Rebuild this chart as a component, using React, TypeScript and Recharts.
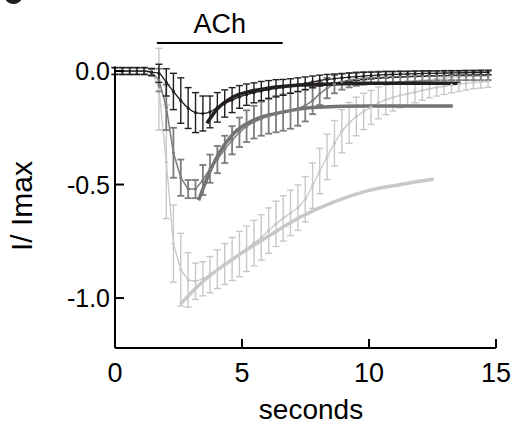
import { ComposedChart, Line, XAxis, YAxis, ErrorBar, ReferenceLine, Label } from "recharts";

// sample times (s)
const times = [
  0, 0.29, 0.58, 0.86, 1.15, 1.44, 1.73, 2.02, 2.3, 2.59, 2.88, 3.17, 3.46, 3.74, 4.03, 4.32, 4.61, 4.9,
  5.18, 5.47, 5.76, 6.05, 6.34, 6.62, 6.91, 7.2, 7.49, 7.78, 8.06, 8.35, 8.64, 8.93, 9.22, 9.5, 9.79,
  10.08, 10.37, 10.66, 10.94, 11.23, 11.52, 11.81, 12.1, 12.38, 12.67, 12.96, 13.25, 13.54, 13.82,
  14.11, 14.4, 14.69,
];

const blackMean = [
  0, 0, 0, 0, 0, -0.005, -0.01, -0.05, -0.09, -0.13, -0.163, -0.183, -0.187, -0.18, -0.16, -0.143,
  -0.128, -0.114, -0.104, -0.096, -0.088, -0.082, -0.076, -0.072, -0.066, -0.06, -0.054, -0.048,
  -0.042, -0.037, -0.033, -0.03, -0.027, -0.025, -0.022, -0.02, -0.018, -0.016, -0.015, -0.014,
  -0.013, -0.012, -0.011, -0.01, -0.01, -0.009, -0.008, -0.008, -0.007, -0.007, -0.006, -0.006,
];
const blackErr = [
  0.015, 0.015, 0.015, 0.015, 0.015, 0.015, 0.04, 0.06, 0.08, 0.1, 0.09, 0.088, 0.077, 0.07, 0.065,
  0.06, 0.055, 0.05, 0.047, 0.044, 0.042, 0.04, 0.038, 0.035, 0.032, 0.03, 0.028, 0.026, 0.024, 0.022,
  0.02, 0.019, 0.018, 0.017, 0.016, 0.015, 0.014, 0.014, 0.013, 0.013, 0.012, 0.012, 0.012, 0.011,
  0.011, 0.011, 0.01, 0.01, 0.01, 0.01, 0.01, 0.01,
];

const darkMean = [
  0, 0, 0, 0, 0, -0.005, -0.04, -0.16, -0.36, -0.47, -0.52, -0.52, -0.48, -0.43, -0.39, -0.345,
  -0.305, -0.27, -0.243, -0.225, -0.21, -0.198, -0.19, -0.183, -0.176, -0.166, -0.152, -0.13, -0.1,
  -0.075, -0.058, -0.047, -0.04, -0.035, -0.032, -0.03, -0.028, -0.027, -0.026, -0.025, -0.024,
  -0.023, -0.022, -0.022, -0.021, -0.021, -0.02, -0.02, -0.02, -0.02, -0.02, -0.02,
];
const darkErr = [
  0.015, 0.015, 0.015, 0.015, 0.015, 0.015, 0.05, 0.1, 0.11, 0.08, 0.04, 0.04, 0.066, 0.062, 0.06,
  0.06, 0.062, 0.065, 0.07, 0.072, 0.075, 0.078, 0.08, 0.08, 0.078, 0.075, 0.07, 0.06, 0.05, 0.045,
  0.04, 0.035, 0.032, 0.03, 0.028, 0.027, 0.026, 0.025, 0.024, 0.023, 0.022, 0.022, 0.021, 0.021,
  0.02, 0.02, 0.02, 0.02, 0.02, 0.02, 0.02, 0.02,
];

const lightMean = [
  0, 0, 0, 0, 0, 0, -0.08, -0.4, -0.76, -0.875, -0.92, -0.926, -0.915, -0.897, -0.873, -0.85, -0.828,
  -0.806, -0.783, -0.758, -0.733, -0.703, -0.673, -0.649, -0.625, -0.602, -0.565, -0.505, -0.44,
  -0.378, -0.318, -0.265, -0.228, -0.2, -0.178, -0.16, -0.14, -0.127, -0.116, -0.107, -0.1, -0.093,
  -0.085, -0.078, -0.072, -0.067, -0.062, -0.058, -0.054, -0.05, -0.048, -0.046,
];
const lightErr = [
  0.015, 0.015, 0.015, 0.015, 0.015, 0.015, 0.18, 0.25, 0.17, 0.16, 0.12, 0.08, 0.075, 0.08, 0.085,
  0.09, 0.095, 0.1, 0.1, 0.1, 0.1, 0.1, 0.1, 0.1, 0.1, 0.1, 0.1, 0.1, 0.1, 0.1, 0.1, 0.095, 0.09,
  0.085, 0.08, 0.075, 0.07, 0.065, 0.06, 0.055, 0.05, 0.047, 0.044, 0.04, 0.038, 0.036, 0.034, 0.032,
  0.03, 0.028, 0.027, 0.026,
];

// fitted decay curves
const blackFitT = [3.62, 4.0, 4.67, 5.3, 6.0, 7.3, 8.6, 9.9, 13.6];
const blackFitV = [-0.23, -0.17, -0.113, -0.09, -0.076, -0.062, -0.057, -0.054, -0.054];
const darkFitT = [3.29, 3.88, 4.67, 5.46, 6.64, 7.96, 9.93, 13.3];
const darkFitV = [-0.57, -0.407, -0.275, -0.216, -0.18, -0.16, -0.154, -0.154];
const lightFitT = [2.57, 3.36, 4.67, 5.99, 7.3, 8.62, 9.93, 11.25, 12.54];
const lightFitV = [-1.028, -0.937, -0.826, -0.731, -0.643, -0.576, -0.528, -0.5, -0.476];

// ACh application (s)
const achStart = 1.65;
const achEnd = 6.6;

const xTicks = [0, 5, 10, 15];
const yTicks = [0, -0.5, -1.0];

const FONT = "Liberation Sans, Arial, sans-serif";

const rows = (mean: number[], err: number[]) => times.map((t, i) => ({ t, v: mean[i], e: err[i] }));
const fitRows = (ts: number[], vs: number[]) => ts.map((t, i) => ({ t, v: vs[i] }));

const XTick = (props: any) => {
  const { x, y, payload } = props;
  return (
    <g>
      <line x1={x} y1={y} x2={x} y2={y - 9} stroke="#000" strokeWidth={2} />
      <text x={x} y={y + 34} textAnchor="middle" fontSize={27} fontFamily={FONT} fill="#000">
        {payload.value}
      </text>
    </g>
  );
};

const YTick = (props: any) => {
  const { x, y, payload } = props;
  return (
    <g>
      <line x1={x} y1={y} x2={x + 9} y2={y} stroke="#000" strokeWidth={2} />
      <text x={x - 5} y={y + 9} textAnchor="end" fontSize={25} fontFamily={FONT} fill="#000">
        {Number(payload.value).toFixed(1)}
      </text>
    </g>
  );
};

export default function App() {
  const black = "#231f20";
  const dark = "#7d7d7d";
  const light = "#c8c8c8";
  return (
    <div style={{ position: "absolute", left: 0, top: 0, width: 515, height: 425, background: "#fff", overflow: "hidden" }}>
      <div style={{ position: "absolute", left: 5, top: -10, width: 17, height: 14, borderRadius: "50%", background: "#231f20" }} />
      <ComposedChart width={515} height={425} margin={{ top: 66.5, right: 19, bottom: 0, left: 0 }}>
        <XAxis
          type="number"
          dataKey="t"
          domain={[0, 15]}
          ticks={xTicks}
          allowDataOverflow
          height={77}
          tickSize={0}
          tickMargin={0}
          tickLine={false}
          axisLine={{ stroke: "#000", strokeWidth: 2 }}
          tick={<XTick />}
          label={
            <Label
              content={() => (
                <text x={311} y={419} textAnchor="middle" fontSize={28} fontFamily={FONT} fill="#000">
                  seconds
                </text>
              )}
            />
          }
        />
        <YAxis
          type="number"
          domain={[-1.22, 0.02]}
          ticks={yTicks}
          allowDataOverflow
          width={115}
          tickSize={0}
          tickMargin={0}
          tickLine={false}
          axisLine={{ stroke: "#000", strokeWidth: 2 }}
          tick={<YTick />}
          label={
            <Label
              content={() => (
                <text
                  x={21}
                  y={206}
                  transform="rotate(-90 21 206)"
                  textAnchor="middle"
                  dominantBaseline="central"
                  fontSize={30}
                  fontFamily={FONT}
                  fill="#000"
                >
                  I/ Imax
                </text>
              )}
            />
          }
        />
        <ReferenceLine
          segment={[
            { x: achStart, y: 0.1235 },
            { x: achEnd, y: 0.1235 },
          ]}
          ifOverflow="visible"
          stroke="#000"
          strokeWidth={2}
        >
          <Label value="ACh" position="top" offset={10} fontSize={27} fontFamily={FONT} fill="#000" />
        </ReferenceLine>

        <Line data={rows(lightMean, lightErr)} dataKey="v" type="linear" stroke={light} strokeWidth={1.3}
          dot={{ r: 1.6, fill: light, stroke: "none" }} activeDot={false} isAnimationActive={false}>
          <ErrorBar dataKey="e" direction="y" width={3.5} stroke={light} strokeWidth={1.4} isAnimationActive={false} />
        </Line>
        <Line data={rows(darkMean, darkErr)} dataKey="v" type="linear" stroke={dark} strokeWidth={1.5}
          dot={{ r: 1.6, fill: dark, stroke: "none" }} activeDot={false} isAnimationActive={false}>
          <ErrorBar dataKey="e" direction="y" width={3.5} stroke={dark} strokeWidth={1.8} isAnimationActive={false} />
        </Line>
        <Line data={rows(blackMean, blackErr)} dataKey="v" type="monotone" stroke={black} strokeWidth={1.3}
          dot={{ r: 1.6, fill: black, stroke: "none" }} activeDot={false} isAnimationActive={false}>
          <ErrorBar dataKey="e" direction="y" width={3.5} stroke={black} strokeWidth={1.4} isAnimationActive={false} />
        </Line>

        <Line data={fitRows(lightFitT, lightFitV)} dataKey="v" type="monotone" stroke={light} strokeWidth={3.5}
          dot={false} activeDot={false} isAnimationActive={false} />
        <Line data={fitRows(darkFitT, darkFitV)} dataKey="v" type="monotone" stroke="#747474" strokeWidth={3.5}
          dot={false} activeDot={false} isAnimationActive={false} />
        <Line data={fitRows(blackFitT, blackFitV)} dataKey="v" type="monotone" stroke={black} strokeWidth={3.5}
          dot={false} activeDot={false} isAnimationActive={false} />
      </ComposedChart>
    </div>
  );
}
